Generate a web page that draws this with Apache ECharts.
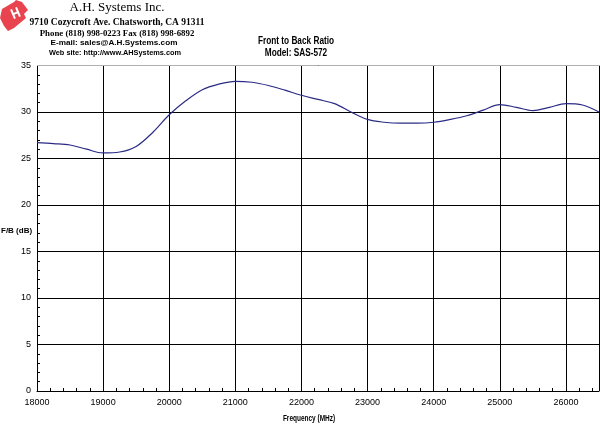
<!DOCTYPE html>
<html>
<head>
<meta charset="utf-8">
<script src="https://cdn.jsdelivr.net/npm/echarts@6/dist/echarts.min.js"></script>
<style>
html,body{margin:0;padding:0;background:#fff;}
#chart{width:600px;height:424px;}
</style>
</head>
<body>
<div id="chart"></div>
<script>
// Data
const freqMHz = [18000,18250,18500,18750,19000,19250,19500,19750,20000,20250,20500,20750,21000,21250,21500,21750,22000,22250,22500,22750,23000,23250,23500,23750,24000,24250,24500,24750,25000,25250,25500,25750,26000,26250,26500];
const fbRatio = [26.7,26.6,26.45,26.0,25.6,25.7,26.3,27.8,29.7,31.2,32.4,33.0,33.3,33.2,32.85,32.35,31.8,31.35,30.9,30.0,29.2,28.9,28.8,28.8,28.9,29.2,29.6,30.2,30.8,30.5,30.15,30.5,30.9,30.75,30.0];
const yTicks = [0,5,10,15,20,25,30,35];
const xTicks = [18000,19000,20000,21000,22000,23000,24000,25000,26000];
const titleLines = ['Front to Back Ratio','Model: SAS-572'];
const xAxisTitle = 'Frequency (MHz)';
const yAxisTitle = 'F/B (dB)';
const headerLines = ['A.H. Systems Inc.','9710 Cozycroft Ave. Chatsworth, CA 91311','Phone (818) 998-0223 Fax (818) 998-6892','E-mail: sales@A.H.Systems.com','Web site: http://www.AHSystems.com'];

const chart = echarts.init(document.getElementById('chart'));
const points = freqMHz.map((f,i)=>[f,fbRatio[i]]);
const sans = '"Liberation Sans", Arial, sans-serif';
const serif = '"Liberation Serif", "Times New Roman", serif';

function htext(txt, x, y, font, sx){
  return {type:'text', x:x, y:y, scaleX:sx||1,
    style:{text:txt, x:0, y:0, textAlign:'center', textVerticalAlign:'top', font:font, fill:'#000'}};
}

chart.setOption({
  animation:false,
  backgroundColor:'#fff',
  grid:{left:37,right:1,top:65.5,bottom:33,outerBoundsMode:'none',containLabel:false,show:false},
  xAxis:{
    type:'value', min:18000, max:26500, interval:1000,
    axisLine:{show:true,lineStyle:{color:'#000',width:1}},
    axisTick:{show:true,inside:true,length:3,lineStyle:{color:'#000'}},
    minorTick:{show:true,splitNumber:5,length:3,lineStyle:{color:'#000'}},
    axisLabel:{fontFamily:sans,fontSize:9,color:'#000',margin:7,showMaxLabel:false,
      formatter:v=> xTicks.includes(v)? String(v):''},
    splitLine:{show:true,lineStyle:{color:'#000',width:1}}
  },
  yAxis:{
    type:'value', min:0, max:35, interval:5,
    axisLine:{show:true,lineStyle:{color:'#000',width:1}},
    axisTick:{show:true,inside:true,length:3,lineStyle:{color:'#000'}},
    minorTick:{show:true,splitNumber:5,length:3,lineStyle:{color:'#000'}},
    axisLabel:{fontFamily:sans,fontSize:9,color:'#000',margin:6,
      formatter:v=> yTicks.includes(v)? String(v):''},
    splitLine:{show:true,lineStyle:{color:'#000',width:1}}
  },
  series:[{
    type:'line', data:points, smooth:0.35, symbol:'none',
    lineStyle:{color:'#2b2b85',width:1.2}
  }],
  graphic:[
    {type:'line',shape:{x1:37,y1:65.5,x2:600,y2:65.5},style:{stroke:'#b0b0b0',lineWidth:1},z:100},
    // logo
    {type:'group',x:0,y:0,children:[
      {type:'polygon',shape:{points:[[2,9],[14,2],[16,0],[22,2],[28,10],[24,14],[26,18],[14,28],[8,31],[4,26],[0,18]]},style:{fill:'#e9434f'}},
      {type:'rect',shape:{x:12,y:9,width:2,height:10},style:{fill:'#fff'},rotation:0.4,originX:13,originY:14},
      {type:'rect',shape:{x:17,y:7,width:2,height:10},style:{fill:'#fff'},rotation:0.4,originX:18,originY:12},
      {type:'rect',shape:{x:13,y:12,width:6,height:2},style:{fill:'#fff'},rotation:0.4,originX:16,originY:13}
    ]},
    htext(headerLines[0], 117, 1, '13px '+serif, 1),
    htext(headerLines[1], 117, 17, 'bold 11px '+serif, 0.86),
    htext(headerLines[2], 117, 29, 'bold 9px '+serif, 0.98),
    htext(headerLines[3], 114, 39, 'bold 8px '+sans, 1.02),
    htext(headerLines[4], 115, 49, 'bold 8px '+sans, 0.92),
    htext(titleLines[0], 296, 35, 'bold 11px '+sans, 0.75),
    htext(titleLines[1], 296, 47, 'bold 11px '+sans, 0.75),
    htext(xAxisTitle, 309, 414, 'bold 9px '+sans, 0.72),
    {type:'text',style:{text:yAxisTitle,x:1,y:227,font:'bold 8px '+sans,fill:'#000'}}
  ]
});
</script>
</body>
</html>
